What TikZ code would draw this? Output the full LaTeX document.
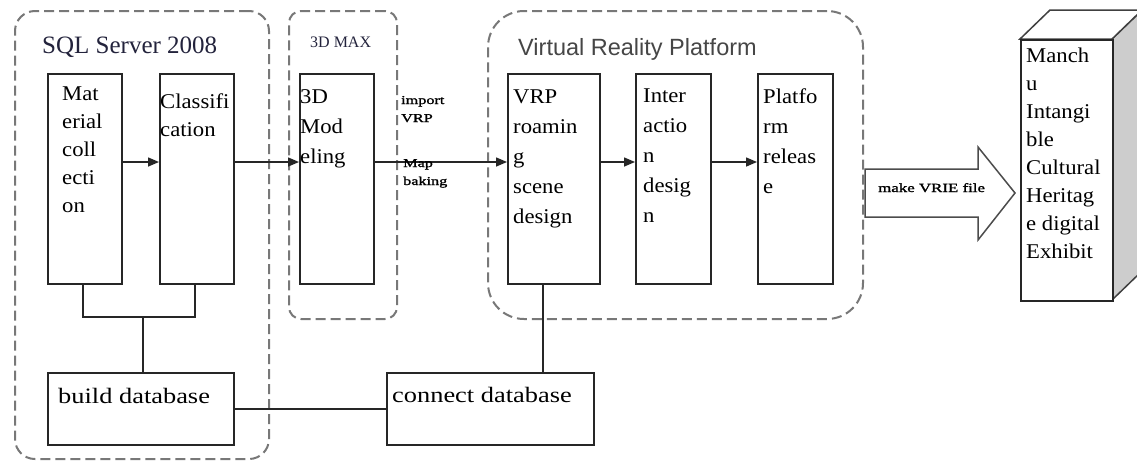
\documentclass[tikz,border=0pt]{standalone}
\usepackage{fontspec}
\setmainfont{Liberation Serif}
\newfontfamily\bxf[FakeStretch=1.08]{Liberation Serif}
\newfontfamily\dbf[FakeStretch=1.2]{Liberation Serif}
\newfontfamily\smf[FakeStretch=1.35,FakeBold=1.5]{Liberation Serif}
\newfontfamily\arialf{Liberation Sans}
\usetikzlibrary{arrows.meta,calc}
\definecolor{dashc}{RGB}{120,120,120}
\definecolor{titlec}{RGB}{35,35,60}
\definecolor{vrc}{RGB}{70,70,70}
\definecolor{sidec}{RGB}{205,205,205}
\begin{document}
\begin{tikzpicture}[x=1pt,y=-1pt,
  box/.style={draw=black!85,line width=1.6pt,inner sep=0pt,anchor=north west},
  cont/.style={draw=dashc,line width=2pt,dash pattern=on 10pt off 5pt,inner sep=0pt,anchor=north west},
  txt/.style={inner sep=0pt,anchor=north west,align=left,font=\bxf\fontsize{21}{#1}\selectfont},
  txt/.default=28,
  conn/.style={draw=black!85,line width=1.5pt},
  arr/.style={conn,-{Triangle[length=11pt,width=9pt]}},
  tiny/.style={inner sep=0pt,anchor=base west,align=left,font=\smf\fontsize{12}{18}\selectfont}
]
\useasboundingbox (0,0) rectangle (1137,461);
\fill[white] (0,0) rectangle (1137,461);

% containers
\node[cont,rounded corners=20pt,minimum width=254pt,minimum height=448pt] (sqlc) at (14,10) {};
\node[cont,rounded corners=12pt,minimum width=108pt,minimum height=308pt] (maxc) at (288,10) {};
\node[cont,rounded corners=36pt,minimum width=375pt,minimum height=308pt] (vrc) at (487,10) {};

% titles
\node[inner sep=0pt,anchor=base west,font=\fontsize{25}{25}\selectfont,text=titlec] (sqlt) at (42,53) {SQL Server 2008};
\node[inner sep=0pt,anchor=base west,font=\fontsize{16}{16}\selectfont,text=titlec] (maxt) at (310,47) {3D MAX};
\node[inner sep=0pt,anchor=base west,font=\arialf\fontsize{23.5}{23.5}\selectfont,text=vrc] (vrt) at (518,55) {Virtual Reality Platform};

% boxes
\node[box,minimum width=74pt,minimum height=210pt] (mat) at (47,73) {};
\node[box,minimum width=74pt,minimum height=210pt] (cls) at (159,73) {};
\node[box,minimum width=74pt,minimum height=210pt] (mod) at (299,73) {};
\node[box,minimum width=92pt,minimum height=210pt] (vrp) at (507,73) {};
\node[box,minimum width=75pt,minimum height=210pt] (int) at (635,73) {};
\node[box,minimum width=75pt,minimum height=210pt] (plt) at (757,73) {};
\node[box,minimum width=186pt,minimum height=72pt] (bdb) at (47,372) {};
\node[box,minimum width=207pt,minimum height=72pt] (cdb) at (386,372) {};

% box texts
\node[txt] (matT) at (62,80) {\rule{0pt}{20pt}Mat\\erial\\coll\\ecti\\on};
\node[txt] (clsT) at (160,88) {\rule{0pt}{20pt}Classifi\\cation};
\node[txt=30] (modT) at (300,83) {\rule{0pt}{20pt}3D\\Mod\\eling};
\node[txt=30] (vrpT) at (513,83) {\rule{0pt}{20pt}VRP\\roamin\\g\\scene\\design};
\node[txt=30] (intT) at (643,82) {\rule{0pt}{20pt}Inter\\actio\\n\\desig\\n};
\node[txt=30] (pltT) at (763,83) {\rule{0pt}{20pt}Platfo\\rm\\releas\\e};
\node[inner sep=0pt,anchor=base west,font=\dbf\fontsize{22}{22}\selectfont] (bdbT) at (58,403) {build database};
\node[inner sep=0pt,anchor=base west,font=\dbf\fontsize{22}{22}\selectfont] (cdbT) at (392,402) {connect database};

% arrows row
\coordinate (ay) at (0,162);
\draw[arr] (mat.north east |- ay) -- (cls.north west |- ay);
\draw[arr] (cls.north east |- ay) -- (mod.north west |- ay);
\draw[arr] (mod.north east |- ay) -- (vrp.north west |- ay);
\draw[arr] (vrp.north east |- ay) -- (int.north west |- ay);
\draw[arr] (int.north east |- ay) -- (plt.north west |- ay);

% labels on import arrow
\node[tiny] (impT) at (401,122) {import\\VRP};
\node[tiny] (mapT) at (403,185) {Map\\baking};

% database connectors
\coordinate (ja) at (83,317);
\coordinate (jb) at (195,317);
\coordinate (jc) at (143,317);
\draw[conn] (mat.south west -| ja) -- (ja) -- (jb) -- (cls.south west -| jb);
\draw[conn] (jc) -- (bdb.north west -| jc);
\coordinate (jv) at (543,0);
\draw[conn] (vrp.south west -| jv) -- (cdb.north west -| jv);
\draw[conn] (bdb.east) -- (cdb.west);

% big arrow
\draw[draw=black!70,line width=1.5pt,fill=white] (865,169) -- (978,169) -- (978,147) -- (1015,193) -- (978,240) -- (978,217) -- (865,217) -- cycle;
\node[inner sep=0pt,anchor=base west,font=\smf\fontsize{12.5}{12.5}\selectfont] (mkT) at (878,192) {make VRIE file};

% 3D exhibit box
\draw[draw=black!75,line width=1.5pt,fill=sidec] (1112,39) -- (1142,10) -- (1142,271) -- (1112,300) -- cycle;
\draw[draw=black!75,line width=1.5pt,fill=white] (1020,39) -- (1050,10) -- (1142,10) -- (1112,39) -- cycle;
\node[box,minimum width=92pt,minimum height=261pt,fill=white] (man) at (1020,39) {};
\node[txt] (manT) at (1026,42) {\rule{0pt}{20pt}Manch\\u\\Intangi\\ble\\Cultural\\Heritag\\e digital\\Exhibit};
\end{tikzpicture}
\end{document}
